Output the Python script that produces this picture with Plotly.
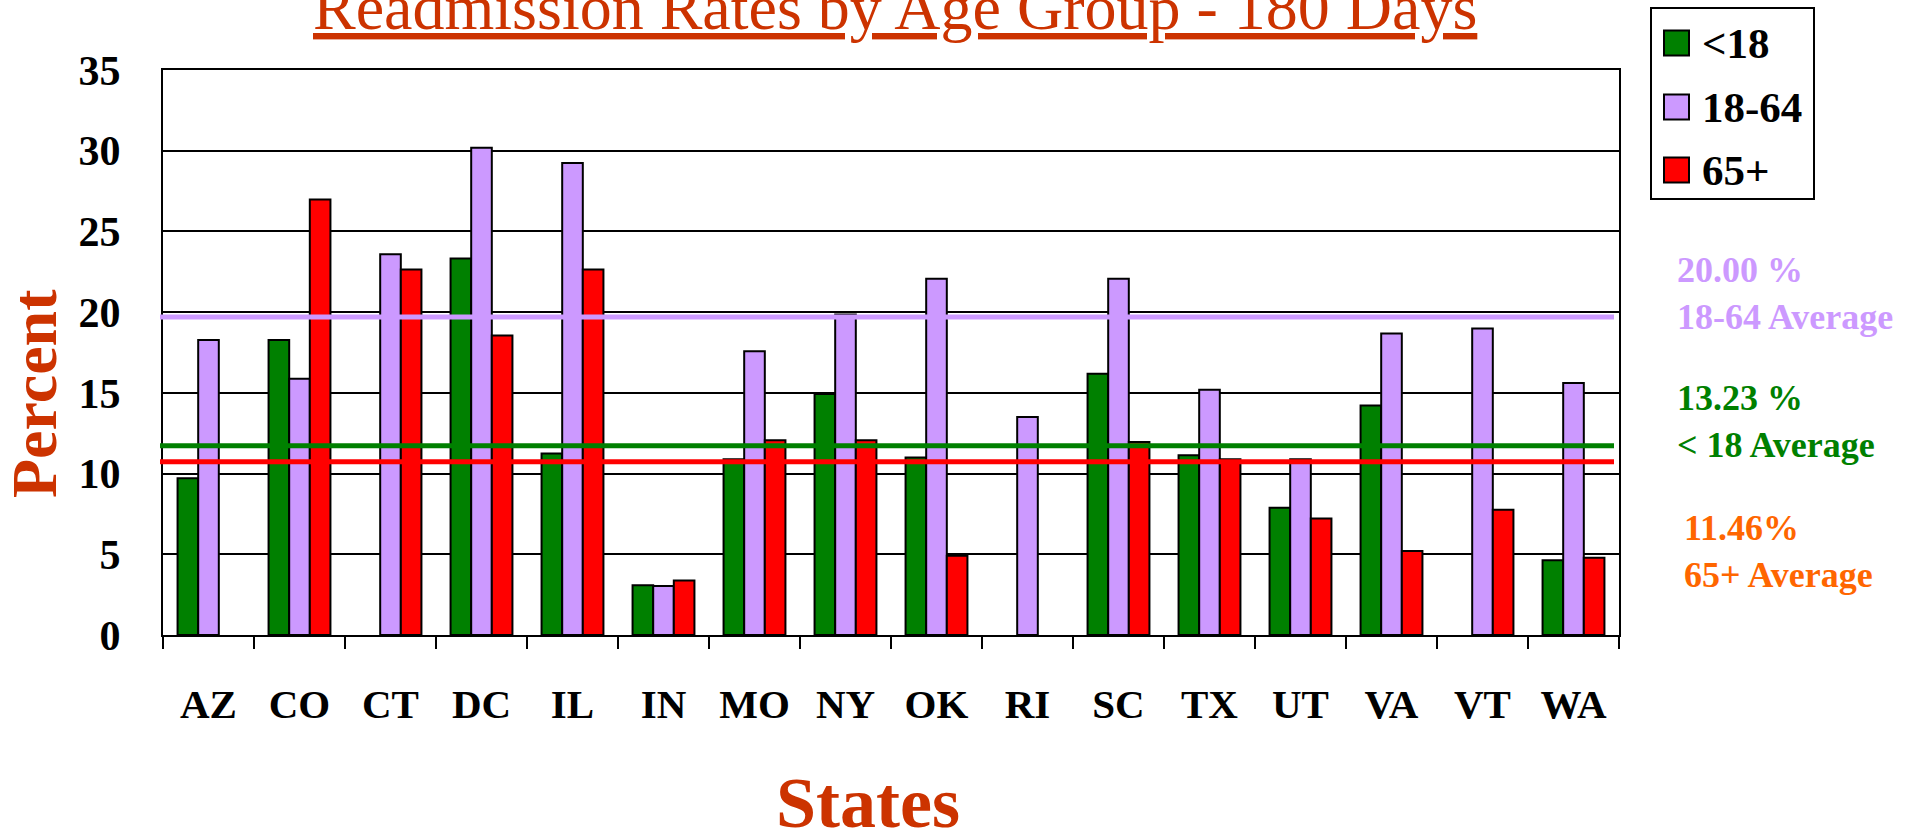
import plotly.graph_objects as go

# ---------------- data ----------------
states = ["AZ", "CO", "CT", "DC", "IL", "IN", "MO", "NY", "OK", "RI", "SC", "TX", "UT", "VA", "VT", "WA"]
under18 = [9.71, 18.27, None, 23.33, 11.25, 3.08, 10.89, 14.93, 10.99, None, 16.18, 11.13, 7.88, 14.21, None, 4.63]
age18_64 = [18.27, 15.88, 23.59, 30.18, 29.24, 3.04, 17.58, 19.86, 22.07, 13.50, 22.07, 15.19, 10.89, 18.68, 18.98, 15.61]
age65plus = [None, 26.98, 22.64, 18.56, 22.64, 3.37, 12.06, 12.06, 4.91, None, 11.96, 10.89, 7.21, 5.20, 7.76, 4.79]

series_names = ["<18", "18-64", "65+"]
avg_line_values = [11.72, 19.70, 10.73]          # drawn average lines (<18, 18-64, 65+)
avg_labels = ["13.23 %<br>< 18 Average", "20.00 %<br>18-64 Average", "11.46%<br>65+ Average"]

title_text = "Readmission Rates by Age Group - 180 Days"
x_title = "States"
y_title = "Percent"

# ---------------- style ----------------
FONT = "Liberation Serif, Times New Roman, serif"
GREEN = "#008000"
PURPLE = "#CC99FF"
RED = "#FF0000"
TITLE_COL = "#CC3300"
series_colors = [GREEN, PURPLE, RED]
avg_text_colors = [GREEN, PURPLE, "#FF6600"]

W, H = 1927, 835
L, R, T, B = 163, 308, 70, 200
PW, PH = W - L - R, H - T - B


def px(xp):
    return (xp - L) / PW


def py(yp):
    return (H - B - yp) / PH


fig = go.Figure()
for name, vals, col in zip(series_names, [under18, age18_64, age65plus], series_colors):
    fig.add_trace(go.Bar(
        x=states, y=vals, name=name,
        marker=dict(color=col, line=dict(color="black", width=2)),
        showlegend=False,
    ))

shapes = []
# average lines
for val, col in zip(avg_line_values, series_colors):
    shapes.append(dict(type="line", xref="paper", yref="y", x0=px(160), x1=px(1614),
                       y0=val, y1=val, line=dict(color=col, width=5), layer="above"))

# manual legend
shapes.append(dict(type="rect", xref="paper", yref="paper", x0=px(1651), x1=px(1814),
                   y0=py(8), y1=py(199), line=dict(color="black", width=2), fillcolor="white"))
annotations = []
leg_y = [43, 107, 170]
for name, col, yc in zip(series_names, series_colors, leg_y):
    shapes.append(dict(type="rect", xref="paper", yref="paper", x0=px(1664), x1=px(1689),
                       y0=py(yc + 12.5), y1=py(yc - 12.5),
                       line=dict(color="black", width=2), fillcolor=col))
    annotations.append(dict(xref="paper", yref="paper", x=px(1700), y=py(yc), text="<b>%s</b>" % name.replace("<", "&lt;"),
                            showarrow=False, xanchor="left", yanchor="middle",
                            font=dict(family=FONT, size=43, color="black")))

# average labels
avg_pos = [(1675, 421), (1675, 293), (1682, 551)]
for txt, col, (ax, ay) in zip(avg_labels, avg_text_colors, avg_pos):
    annotations.append(dict(xref="paper", yref="paper", x=px(ax), y=py(ay),
                            text="<b>%s</b>" % txt.replace("< 18", "&lt; 18"),
                            showarrow=False, xanchor="left", yanchor="middle", align="left",
                            font=dict(family=FONT, size=36, color=col)))

# title, axis titles
annotations.append(dict(xref="paper", yref="paper", x=px(895), y=py(8), text="<u>%s</u>" % title_text,
                        showarrow=False, xanchor="center", yanchor="middle",
                        font=dict(family=FONT, size=64, color=TITLE_COL)))
annotations.append(dict(xref="paper", yref="paper", x=px(868), y=py(803), text="<b>%s</b>" % x_title,
                        showarrow=False, xanchor="center", yanchor="middle",
                        font=dict(family=FONT, size=72, color=TITLE_COL)))
annotations.append(dict(xref="paper", yref="paper", x=px(34), y=py(394), text="<b>%s</b>" % y_title,
                        showarrow=False, xanchor="center", yanchor="middle", textangle=-90,
                        font=dict(family=FONT, size=64, color=TITLE_COL)))

fig.update_layout(
    width=W, height=H,
    margin=dict(l=L, r=R, t=T, b=B, pad=0),
    paper_bgcolor="white", plot_bgcolor="white",
    barmode="group", bargap=0.32, bargroupgap=0,
    shapes=shapes, annotations=annotations,
    showlegend=False,
    xaxis=dict(type="category", categoryorder="array", categoryarray=states,
               showline=True, linecolor="black", linewidth=2, mirror=True,
               ticks="outside", tickson="boundaries", ticklen=12, tickwidth=2, tickcolor="black",
               tickfont=dict(family=FONT, size=41, color="black"), ticklabelstandoff=32,
               tickprefix="<b>", ticksuffix="</b>",
               showgrid=False, zeroline=False),
    yaxis=dict(range=[0, 35], dtick=5, tick0=0,
               showline=True, linecolor="black", linewidth=2, mirror=True,
               showgrid=True, gridcolor="black", gridwidth=2, zeroline=False,
               ticks="", tickfont=dict(family=FONT, size=42, color="black"),
               ticklabelstandoff=32, tickprefix="<b>", ticksuffix="</b>"),
    font=dict(family=FONT, color="black"),
)

fig.write_html("out.html", config={"displayModeBar": False},
               post_script="document.body.style.margin='0';")
